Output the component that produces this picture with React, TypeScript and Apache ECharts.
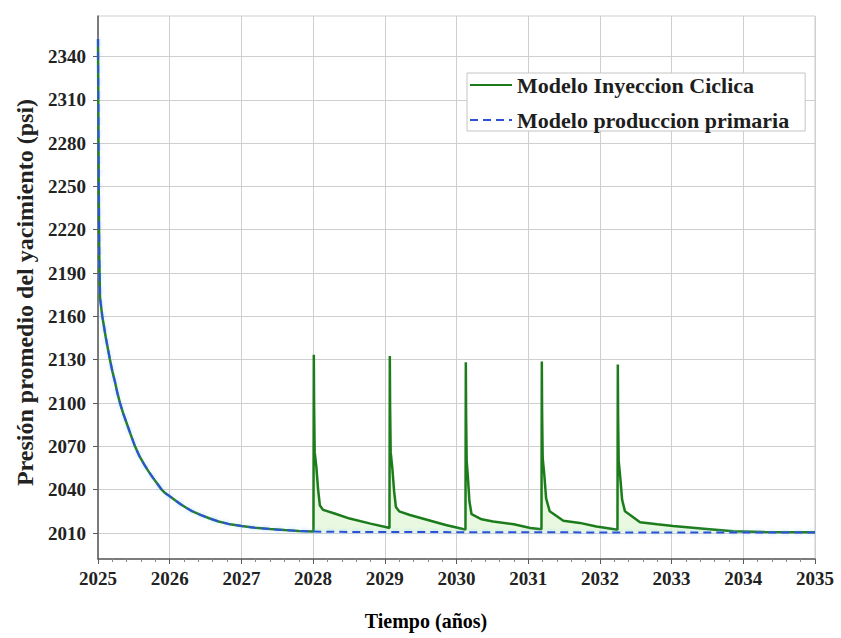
import React, { useEffect, useRef } from "react";
import * as echarts from "echarts";

// Shared pressure decline from start of production until the first injection cycle
const declineYears = [
  2025.0, 2025.005, 2025.01, 2025.018, 2025.028, 2025.06, 2025.08, 2025.11, 2025.14, 2025.167,
  2025.2, 2025.24, 2025.27, 2025.307, 2025.35, 2025.4, 2025.45, 2025.516, 2025.58, 2025.65,
  2025.7, 2025.77, 2025.83, 2025.888, 2025.94, 2026.0, 2026.08, 2026.15, 2026.23, 2026.31,
  2026.43, 2026.55, 2026.68, 2026.82, 2027.0, 2027.19, 2027.4, 2027.6, 2027.8, 2028.0,
];
const declineValues = [
  2352, 2300, 2250, 2200, 2173, 2160, 2154, 2145, 2137, 2130,
  2122, 2114, 2107, 2100, 2093, 2086, 2079, 2070, 2063, 2057,
  2053, 2048, 2044, 2040, 2037.5, 2035.5, 2032.5, 2030, 2027.5, 2025.2,
  2022.5, 2020.2, 2018, 2016.3, 2014.8, 2013.6, 2012.7, 2012, 2011.4, 2011,
];

// Primary production (no injection) after 2028
const primaryYears = [2028.3, 2029, 2030, 2031, 2032, 2033, 2034, 2035];
const primaryValues = [2010.8, 2010.7, 2010.6, 2010.5, 2010.4, 2010.4, 2010.3, 2010.3];

// Cyclic injection model after 2028: five injection pulses
const cyclicYears = [
  2028.005, 2028.01, 2028.014, 2028.022, 2028.045, 2028.07, 2028.095, 2028.14, 2028.3, 2028.51, 2028.8, 2029.04, 2029.065,
  2029.07, 2029.074, 2029.082, 2029.105, 2029.13, 2029.155, 2029.2, 2029.35, 2029.6, 2029.85, 2030.09, 2030.125,
  2030.13, 2030.134, 2030.142, 2030.16, 2030.18, 2030.21, 2030.35, 2030.51, 2030.8, 2031.03, 2031.185,
  2031.19, 2031.194, 2031.202, 2031.225, 2031.25, 2031.3, 2031.49, 2031.72, 2031.95, 2032.09, 2032.245,
  2032.25, 2032.254, 2032.262, 2032.285, 2032.31, 2032.35, 2032.56, 2032.8, 2033.02, 2033.49, 2033.86, 2034.3, 2035.0,
];
const cyclicValues = [
  2011.5, 2133.5, 2098, 2066, 2056, 2040, 2029, 2026, 2023.5, 2020, 2016.5, 2013.8, 2013.4,
  2132.6, 2097, 2066, 2055, 2039, 2028, 2025, 2022.5, 2019, 2015.5, 2012.8, 2012.5,
  2128.2, 2092, 2060, 2048, 2032, 2023, 2019.5, 2018, 2016, 2013.5, 2012.6,
  2128.7, 2093, 2062, 2050, 2034, 2025, 2018.5, 2017, 2014.5, 2013.5, 2012.3,
  2126.6, 2090, 2060, 2048, 2033, 2025, 2017.5, 2016, 2014.8, 2012.8, 2011.2, 2010.7, 2010.5,
];

const yTickValues = [2010, 2040, 2070, 2100, 2130, 2160, 2190, 2220, 2250, 2280, 2310, 2340];

const seriesNames = ["Modelo Inyeccion Ciclica", "Modelo produccion primaria"];

const pairs = (xs: number[], ys: number[]) => xs.map((x, i) => [x, ys[i]]);

const FONT = "'Liberation Serif', 'Times New Roman', serif";

export default function App() {
  const ref = useRef<HTMLDivElement>(null);

  useEffect(() => {
    const chart = echarts.init(ref.current!, null, { renderer: "svg" });

    const primary = pairs(declineYears, declineValues).concat(pairs(primaryYears, primaryValues));
    const cyclicTail = pairs(cyclicYears, cyclicValues);
    const cyclic = pairs(declineYears, declineValues).concat(cyclicTail);
    const fillData = [[2028.0, 2011] as number[]].concat(cyclicTail);

    chart.setOption({
      animation: false,
      backgroundColor: "#ffffff",
      grid: {
        left: 98,
        right: 26,
        top: 16,
        bottom: 79,
        show: true,
        borderColor: "#cfcfcf",
        borderWidth: 1,
        backgroundColor: "transparent",
      },
      legend: {
        orient: "vertical",
        left: 467,
        top: 73,
        data: seriesNames,
        itemWidth: 42,
        itemHeight: 12,
        itemGap: 13,
        padding: [1, 16, 0, 2],
        backgroundColor: "#ffffff",
        borderColor: "#c4c4c4",
        borderWidth: 1,
        itemStyle: { color: "transparent", borderWidth: 0, opacity: 0 },
        textStyle: { fontFamily: FONT, fontWeight: "bold", fontSize: 22, color: "#1e1e1e" },
      },
      xAxis: {
        type: "value",
        min: 2025,
        max: 2035,
        interval: 1,
        name: "Tiempo (años)",
        nameLocation: "middle",
        nameGap: 52,
        nameTextStyle: {
          fontFamily: FONT,
          fontWeight: "bold",
          fontSize: 20,
          color: "#000000",
          padding: [0, 61, 0, 0],
        },
        axisLine: { show: true, lineStyle: { color: "#5a5a5a", width: 1.5 } },
        axisTick: { show: true, length: 5, lineStyle: { color: "#5a5a5a" } },
        minorTick: { show: true, splitNumber: 5, length: 3, lineStyle: { color: "#8a8a8a" } },
        axisLabel: {
          fontFamily: FONT,
          fontWeight: "bold",
          fontSize: 19,
          color: "#222222",
          margin: 10,
          formatter: (v: number) => String(v),
        },
        splitLine: { show: true, lineStyle: { color: "#cfcfcf", width: 1 } },
      },
      yAxis: {
        type: "value",
        min: 1992,
        max: 2368,
        name: "Presión promedio del yacimiento (psi)",
        nameLocation: "middle",
        nameGap: 61,
        nameTextStyle: {
          fontFamily: FONT,
          fontWeight: "bold",
          fontSize: 24,
          color: "#222222",
          padding: [0, 10, 0, 0],
        },
        axisLine: { show: true, lineStyle: { color: "#5a5a5a", width: 1.5 } },
        axisTick: { show: true, length: 5, customValues: yTickValues, lineStyle: { color: "#5a5a5a" } },
        axisLabel: {
          customValues: yTickValues,
          fontFamily: FONT,
          fontWeight: "bold",
          fontSize: 19,
          color: "#222222",
          margin: 12,
          formatter: (v: number) => String(v),
        },
        splitLine: { show: true, lineStyle: { color: "#cfcfcf", width: 1 } },
      },
      series: [
        {
          name: "cyclic-fill",
          type: "line",
          data: fillData,
          showSymbol: false,
          silent: true,
          lineStyle: { width: 0 },
          areaStyle: { origin: 2010.6, color: "#dff6d4" },
          z: 1,
        },
        {
          name: seriesNames[0],
          type: "line",
          data: cyclic,
          showSymbol: false,
          symbol: "none",
          lineStyle: { color: "#1c7c1c", width: 2.5 },
          itemStyle: { color: "#1c7c1c" },
          z: 3,
        },
        {
          name: seriesNames[1],
          type: "line",
          data: primary,
          showSymbol: false,
          symbol: "none",
          lineStyle: {
            color: "#2f50d8",
            width: 2,
            type: [8, 5],
            shadowColor: "rgba(120,190,255,0.7)",
            shadowBlur: 4,
          },
          itemStyle: { color: "#2f50d8" },
          z: 4,
        },
      ],
    });

    return () => chart.dispose();
  }, []);

  return (
    <div
      ref={ref}
      style={{ position: "fixed", left: 0, top: 0, width: 841, height: 638 }}
    />
  );
}
